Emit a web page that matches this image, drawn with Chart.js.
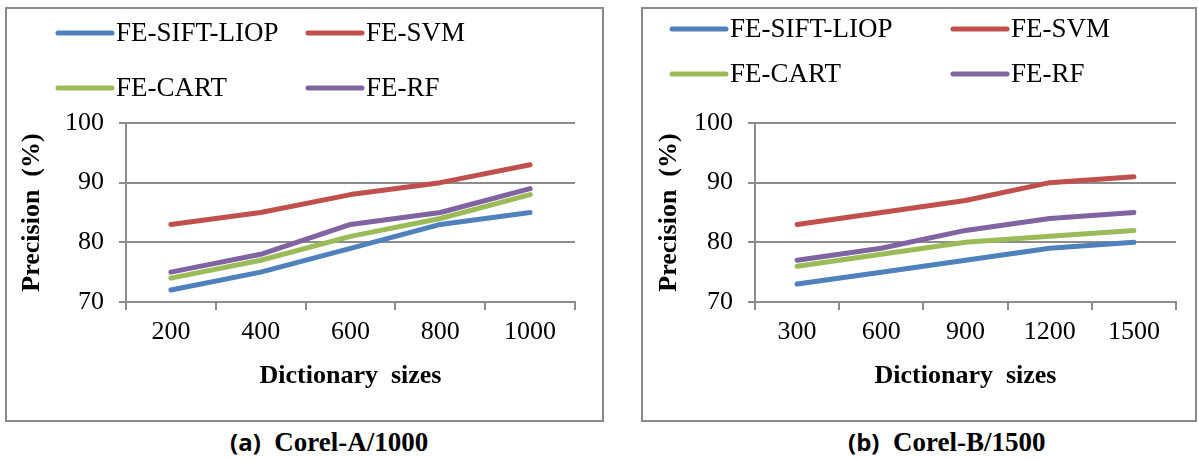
<!DOCTYPE html>
<html>
<head>
<meta charset="utf-8">
<script src="https://cdn.jsdelivr.net/npm/chart.js@4"></script>
<style>
  body { margin: 0; background: #fff; width: 1198px; height: 460px; position: relative; overflow: hidden; font-family: "Liberation Serif", serif; }
  .box { position: absolute; border: 2px solid #8a8a8a; box-sizing: border-box; }
  canvas { position: absolute; top: 0; }
  .cap { position: absolute; top: 426px; font-size: 27px; font-weight: bold; white-space: pre; line-height: 32px; }
  .cap .p { font-family: "Open Sans", sans-serif; font-size: 24px; }
</style>
</head>
<body>
<div class="box" style="left:5px;top:7px;width:599px;height:415px"></div>
<div class="box" style="left:641px;top:7px;width:556px;height:415px"></div>
<canvas id="chartA" width="600" height="420" style="left:0"></canvas>
<canvas id="chartB" width="598" height="420" style="left:600px"></canvas>
<div class="cap" style="left:230px"><span class="p">(a)</span>  Corel-A/1000</div>
<div class="cap" style="left:848px"><span class="p">(b)</span>  Corel-B/1500</div>
<script>
// categories
const sizesA = ['200', '400', '600', '800', '1000'];
const sizesB = ['300', '600', '900', '1200', '1500'];
const seriesNames = ['FE-SIFT-LIOP', 'FE-SVM', 'FE-CART', 'FE-RF'];
const yTicks = [70, 80, 90, 100];

// Corel-A/1000
const siftA = [72, 75, 79, 83, 85];
const svmA  = [83, 85, 88, 90, 93];
const cartA = [74, 77, 81, 84, 88];
const rfA   = [75, 78, 83, 85, 89];

// Corel-B/1500
const siftB = [73, 75, 77, 79, 80];
const svmB  = [83, 85, 87, 90, 91];
const cartB = [76, 78, 80, 81, 82];
const rfB   = [77, 79, 82, 84, 85];

const colors = ['#4F81BD', '#C0504D', '#9BBB59', '#8064A2'];
const gridColor = '#8c8c8c';
const serif = '"Liberation Serif", "Times New Roman", serif';

// two-column legend drawn above the plot, like the Excel original
const gridLegend = {
  id: 'gridLegend',
  afterDraw(chart, args, opts) {
    const ctx = chart.ctx;
    ctx.save();
    chart.data.datasets.forEach((ds, i) => {
      const x = opts.cols[i % 2], y = opts.rows[Math.floor(i / 2)];
      ctx.strokeStyle = ds.borderColor;
      ctx.lineWidth = 5;
      ctx.lineCap = 'round';
      ctx.beginPath();
      ctx.moveTo(x, y);
      ctx.lineTo(x + opts.lineLen, y);
      ctx.stroke();
      ctx.fillStyle = '#000';
      ctx.font = '27px ' + serif;
      ctx.textBaseline = 'middle';
      ctx.fillText(ds.label, x + opts.lineLen + 4, y + 1);
    });
    ctx.restore();
  }
};

function makeChart(id, labels, values, lay) {
  new Chart(document.getElementById(id), {
    type: 'line',
    data: {
      labels: labels,
      datasets: values.map((v, i) => ({
        label: seriesNames[i],
        data: v,
        borderColor: colors[i],
        backgroundColor: colors[i],
        borderWidth: 5,
        pointRadius: 0,
        borderCapStyle: 'round',
        borderJoinStyle: 'round',
        order: values.length - i
      }))
    },
    plugins: [gridLegend],
    options: {
      responsive: false,
      animation: false,
      layout: { padding: { top: 123, right: lay.right, bottom: 28, left: 0 } },
      plugins: {
        legend: { display: false },
        tooltip: { enabled: false },
        gridLegend: lay.legend
      },
      scales: {
        x: {
          offset: true,
          afterFit: s => { s.height = 90; },
          grid: { offset: true, drawOnChartArea: false, color: gridColor, lineWidth: 2, tickLength: 8 },
          border: { color: gridColor, width: 2 },
          ticks: { color: '#000', font: { family: serif, size: 26 }, padding: 7, maxRotation: 0 },
          title: { display: true, text: 'Dictionary  sizes', color: '#000', font: { family: serif, size: 26, weight: 'bold' }, padding: 0 }
        },
        y: {
          min: 70, max: 100,
          afterFit: s => { s.width = lay.axisX; },
          afterBuildTicks: s => { s.ticks = yTicks.map(v => ({ value: v })); },
          grid: { color: gridColor, lineWidth: 2, tickLength: 7 },
          border: { color: gridColor, width: 2 },
          ticks: { color: '#000', font: { family: serif, size: 26 }, padding: 15 },
          title: { display: true, text: 'Precision  (%)', color: '#000', font: { family: serif, size: 26, weight: 'bold' }, padding: { top: lay.titlePad, bottom: 0 } }
        }
      }
    }
  });
}

makeChart('chartA', sizesA, [siftA, svmA, cartA, rfA], {
  axisX: 126, right: 25, titlePad: 17,
  legend: { cols: [58, 308], rows: [33, 88], lineLen: 54 }
});
makeChart('chartB', sizesB, [siftB, svmB, cartB, rfB], {
  axisX: 155, right: 22, titlePad: 54,
  legend: { cols: [72, 353], rows: [29, 74], lineLen: 54 }
});
</script>
</body>
</html>
